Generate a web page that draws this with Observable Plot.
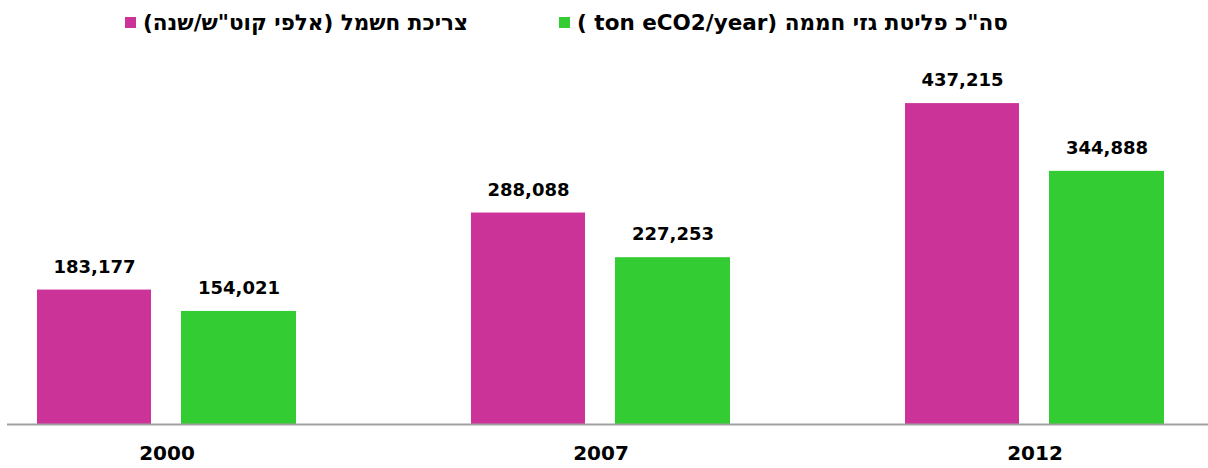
<!DOCTYPE html>
<html>
<head>
<meta charset="utf-8">
<script src="https://cdn.jsdelivr.net/npm/d3@7"></script>
<script src="https://cdn.jsdelivr.net/npm/@observablehq/plot@0.6"></script>
<style>
  body { margin: 0; background: #fff; font-family: "DejaVu Sans", sans-serif; }
  #legend { height: 45px; display: flex; align-items: center; padding-left: 125px; box-sizing: border-box; font-weight: bold; font-size: 21.5px; color: #000; }
  .item { display: flex; align-items: center; }
  .sw { width: 11px; height: 11px; margin-right: 7px; }
</style>
</head>
<body>
<div id="legend"></div>
<div id="chart"></div>
<script>
const years = ["2000", "2007", "2012"];
const electricity = [183177, 288088, 437215];
const emissions = [154021, 227253, 344888];
const seriesNames = ["צריכת חשמל (אלפי קוט\"ש/שנה)", "סה\"כ פליטת גזי חממה (ton eCO2/year )"];
const seriesColors = ["#CC3399", "#33CC33"];

const elecData = years.map((y, i) => ({year: y, value: electricity[i]}));
const emisData = years.map((y, i) => ({year: y, value: emissions[i]}));

const legend = document.getElementById("legend");
seriesNames.forEach((name, i) => {
  const item = document.createElement("div");
  item.className = "item";
  if (i > 0) item.style.marginLeft = "91px";
  const sw = document.createElement("span");
  sw.className = "sw";
  sw.style.background = seriesColors[i];
  const t = document.createElement("span");
  t.dir = "rtl";
  t.textContent = name;
  item.append(sw, t);
  legend.append(item);
});

const fmt = d3.format(",");
const chart = Plot.plot({
  width: 1208,
  height: 423,
  marginTop: 12,
  marginBottom: 44,
  marginLeft: 7,
  marginRight: 0,
  style: {fontFamily: "DejaVu Sans, sans-serif", background: "#fff"},
  x: {domain: years, paddingInner: 0.404, paddingOuter: 0.084, align: 0.397, label: null},
  y: {domain: [0, 500000], axis: null},
  marks: [
    Plot.barY(elecData, {x: "year", y: "value", fill: seriesColors[0], insetRight: 145}),
    Plot.barY(emisData, {x: "year", y: "value", fill: seriesColors[1], insetLeft: 144}),
    Plot.text(elecData, {x: "year", y: "value", text: d => fmt(d.value), dx: -72.5, dy: -23, fontSize: 18, fontWeight: "bold", fill: "#000"}),
    Plot.text(emisData, {x: "year", y: "value", text: d => fmt(d.value), dx: 72, dy: -23, fontSize: 18, fontWeight: "bold", fill: "#000"}),
    Plot.ruleY([0], {stroke: "#a0a0a0", strokeWidth: 2}),
    Plot.axisX({tickSize: 0, tickPadding: 21, fontSize: 20, fontWeight: "bold", label: null, fill: "#000"})
  ]
});
document.getElementById("chart").append(chart);
</script>
</body>
</html>
